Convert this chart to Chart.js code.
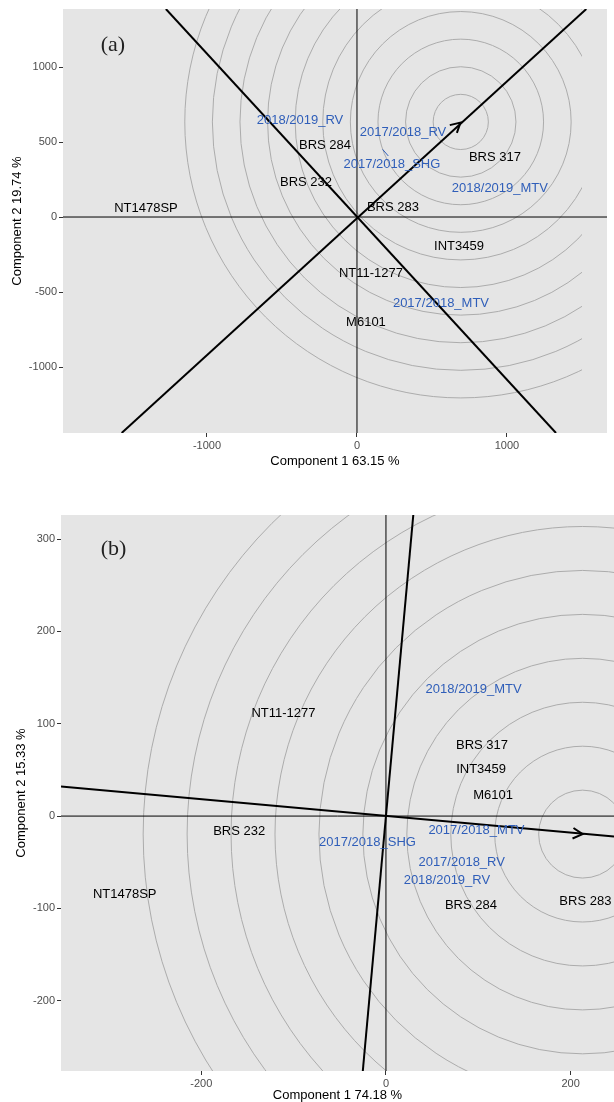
<!DOCTYPE html>
<html>
<head>
<meta charset="utf-8">
<script src="https://cdn.jsdelivr.net/npm/chart.js@4.4.1/dist/chart.umd.min.js"></script>
<style>
  html, body { margin: 0; padding: 0; background: #fff; }
  canvas { position: absolute; left: 0; }
  #chartA { top: 0; }
  #chartB { top: 480px; }
</style>
</head>
<body>
<canvas id="chartA" width="614" height="470"></canvas>
<canvas id="chartB" width="614" height="622"></canvas>
<script>
// ---- panel (a) ----
const xLimA = [-1960, 1667];
const yLimA = [-1440, 1387];
const xTicksA = [-1000, 0, 1000];
const yTicksA = [-1000, -500, 0, 500, 1000];
const envNamesA = ['2018/2019_RV', '2017/2018_RV', '2017/2018_SHG', '2018/2019_MTV', '2017/2018_MTV'];
const envXA = [-380, 307, 233, 953, 560];
const envYA = [647, 567, 353, 193, -573];
const genNamesA = ['BRS 284', 'BRS 317', 'BRS 232', 'NT1478SP', 'BRS 283', 'INT3459', 'NT11-1277', 'M6101'];
const genXA = [-213, 920, -340, -1407, 240, 680, 93, 60];
const genYA = [480, 400, 233, 60, 67, -193, -373, -700];
const lineOneA = [[-1569, -1440], [1529, 1387]];
const lineTwoA = [[-1274, 1387], [1327, -1440]];
const arrowTipA = [690, 630];
const ringCenterA = [692, 634];
const ringRadiiA = [184, 368, 552, 736, 920, 1104, 1288, 1472, 1656, 1840];
const ringMaxXA = 1500;
const repelSegA = [[171, 451], [209, 407]];
const tagA = ['(a)', -1627, 1147];

// ---- panel (b) ----
const xLimB = [-352, 247];
const yLimB = [-276, 326];
const xTicksB = [-200, 0, 200];
const yTicksB = [-200, -100, 0, 100, 200, 300];
const envNamesB = ['2018/2019_MTV', '2017/2018_MTV', '2017/2018_SHG', '2017/2018_RV', '2018/2019_RV'];
const envXB = [95, 98, -20, 82, 66];
const envYB = [137, -16, -28, -50, -70];
const genNamesB = ['NT11-1277', 'BRS 317', 'INT3459', 'M6101', 'BRS 232', 'BRS 284', 'BRS 283', 'NT1478SP'];
const genXB = [-111, 104, 103, 116, -159, 92, 216, -283];
const genYB = [111, 76, 50, 22, -17, -97, -92, -85];
const lineOneB = [[-352, 32], [247, -22]];
const lineTwoB = [[29.6, 326], [-25.1, -276]];
const arrowTipB = [213, -19.5];
const ringCenterB = [213, -19.5];
const ringRadiiB = [47.6, 95.2, 142.8, 190.4, 238, 285.6, 333.2, 380.8, 428.4, 476];
const tagB = ['(b)', -295, 289];

const SANS = '"Liberation Sans", Arial, sans-serif';
const ENV_COLOR = '#2f5eb9';
Chart.defaults.font.family = SANS;

const toPoints = (pairs) => pairs.map(([x, y]) => ({ x, y }));

function biplot(canvasId, p) {
  const plugin = {
    id: 'biplot_' + canvasId,
    beforeDraw(chart) {
      const { ctx, chartArea: a } = chart;
      ctx.save();
      ctx.fillStyle = '#e5e5e5';
      ctx.fillRect(a.left, a.top, a.right - a.left, a.bottom - a.top);
      ctx.restore();
    },
    beforeDatasetsDraw(chart) {
      // concentric circles round the ideal point
      const { ctx, chartArea: a, scales: { x, y } } = chart;
      const right = p.ringMaxX != null ? Math.min(a.right, x.getPixelForValue(p.ringMaxX)) : a.right;
      const cx = x.getPixelForValue(p.ringCenter[0]);
      const cy = y.getPixelForValue(p.ringCenter[1]);
      ctx.save();
      ctx.beginPath();
      ctx.rect(a.left, a.top, right - a.left, a.bottom - a.top);
      ctx.clip();
      ctx.strokeStyle = '#acacac';
      ctx.lineWidth = 1;
      p.ringRadii.forEach((r) => {
        const rp = x.getPixelForValue(p.ringCenter[0] + r) - cx;
        ctx.beginPath();
        ctx.arc(cx, cy, rp, 0, Math.PI * 2);
        ctx.stroke();
      });
      ctx.restore();
    },
    afterDatasetsDraw(chart) {
      const { ctx, chartArea: a, scales: { x, y } } = chart;
      ctx.save();
      ctx.beginPath();
      ctx.rect(a.left, a.top, a.right - a.left, a.bottom - a.top);
      ctx.clip();

      // arrow head
      const ox = x.getPixelForValue(0), oy = y.getPixelForValue(0);
      const tx = x.getPixelForValue(p.arrowTip[0]), ty = y.getPixelForValue(p.arrowTip[1]);
      const ang = Math.atan2(ty - oy, tx - ox);
      const len = 11, spread = 0.5;
      ctx.strokeStyle = '#000';
      ctx.lineWidth = 2;
      ctx.beginPath();
      ctx.moveTo(tx - len * Math.cos(ang - spread), ty - len * Math.sin(ang - spread));
      ctx.lineTo(tx, ty);
      ctx.lineTo(tx - len * Math.cos(ang + spread), ty - len * Math.sin(ang + spread));
      ctx.stroke();

      // labels
      ctx.textAlign = 'center';
      ctx.textBaseline = 'middle';
      ctx.font = '13px ' + SANS;
      ctx.fillStyle = ENV_COLOR;
      p.envNames.forEach((n, i) => {
        ctx.fillText(n, x.getPixelForValue(p.envX[i]), y.getPixelForValue(p.envY[i]));
      });
      ctx.fillStyle = '#000';
      p.genNames.forEach((n, i) => {
        ctx.fillText(n, x.getPixelForValue(p.genX[i]), y.getPixelForValue(p.genY[i]));
      });

      // panel tag
      ctx.font = '22px "Liberation Serif", "Times New Roman", serif';
      ctx.fillStyle = '#222';
      ctx.fillText(p.tag[0], x.getPixelForValue(p.tag[1]), y.getPixelForValue(p.tag[2]));
      ctx.restore();
    },
  };

  const lineSet = (data, width, color) => ({
    data, showLine: true, pointRadius: 0, borderColor: color || '#000',
    borderWidth: width, clip: 0, fill: false,
  });

  const datasets = [
    lineSet([{ x: p.xLim[0], y: 0 }, { x: p.xLim[1], y: 0 }], 1),
    lineSet([{ x: 0, y: p.yLim[0] }, { x: 0, y: p.yLim[1] }], 1),
    lineSet(toPoints(p.lineOne), 2),
    lineSet(toPoints(p.lineTwo), 2),
  ];
  if (p.repelSeg) datasets.push(lineSet(toPoints(p.repelSeg), 1, ENV_COLOR));

  const axis = (lim, ticks, title, titlePad, fit) => ({
    type: 'linear',
    min: lim[0],
    max: lim[1],
    afterBuildTicks: (s) => { s.ticks = ticks.map((v) => ({ value: v })); },
    afterFit: fit,
    grid: { drawOnChartArea: false, drawTicks: true, tickLength: 4, tickColor: '#333', tickWidth: 1 },
    border: { display: false },
    ticks: { color: '#4d4d4d', font: { size: 11 }, padding: 2, callback: (v) => String(v), maxRotation: 0 },
    title: { display: true, text: title, color: '#000', font: { size: 13 }, padding: titlePad },
  });

  return new Chart(document.getElementById(canvasId), {
    type: 'scatter',
    data: { datasets },
    options: {
      responsive: false,
      animation: false,
      events: [],
      layout: { padding: p.padding },
      plugins: { legend: { display: false }, tooltip: { enabled: false } },
      scales: {
        x: axis(p.xLim, p.xTicks, p.xTitle, { top: 0, bottom: p.xTitlePad },
          (s) => { s.height = p.xAxisHeight; }),
        y: axis(p.yLim, p.yTicks, p.yTitle, { top: p.yTitlePad, bottom: 0 },
          (s) => { s.width = p.yAxisWidth; }),
      },
    },
    plugins: [plugin],
  });
}

biplot('chartA', {
  xLim: xLimA, yLim: yLimA, xTicks: xTicksA, yTicks: yTicksA,
  envNames: envNamesA, envX: envXA, envY: envYA,
  genNames: genNamesA, genX: genXA, genY: genYA,
  lineOne: lineOneA, lineTwo: lineTwoA, arrowTip: arrowTipA,
  ringCenter: ringCenterA, ringRadii: ringRadiiA, ringMaxX: ringMaxXA,
  repelSeg: repelSegA, tag: tagA,
  xTitle: 'Component 1 63.15 %', yTitle: 'Component 2 19.74 %',
  padding: { top: 9, right: 7, left: 0, bottom: 0 },
  xAxisHeight: 37, yAxisWidth: 63, xTitlePad: 1, yTitlePad: 10,
});

biplot('chartB', {
  xLim: xLimB, yLim: yLimB, xTicks: xTicksB, yTicks: yTicksB,
  envNames: envNamesB, envX: envXB, envY: envYB,
  genNames: genNamesB, genX: genXB, genY: genYB,
  lineOne: lineOneB, lineTwo: lineTwoB, arrowTip: arrowTipB,
  ringCenter: ringCenterB, ringRadii: ringRadiiB, ringMaxX: null,
  repelSeg: null, tag: tagB,
  xTitle: 'Component 1 74.18 %', yTitle: 'Component 2 15.33 %',
  padding: { top: 35, right: 0, left: 0, bottom: 0 },
  xAxisHeight: 31, yAxisWidth: 61, xTitlePad: -1, yTitlePad: 14,
});
</script>
</body>
</html>
